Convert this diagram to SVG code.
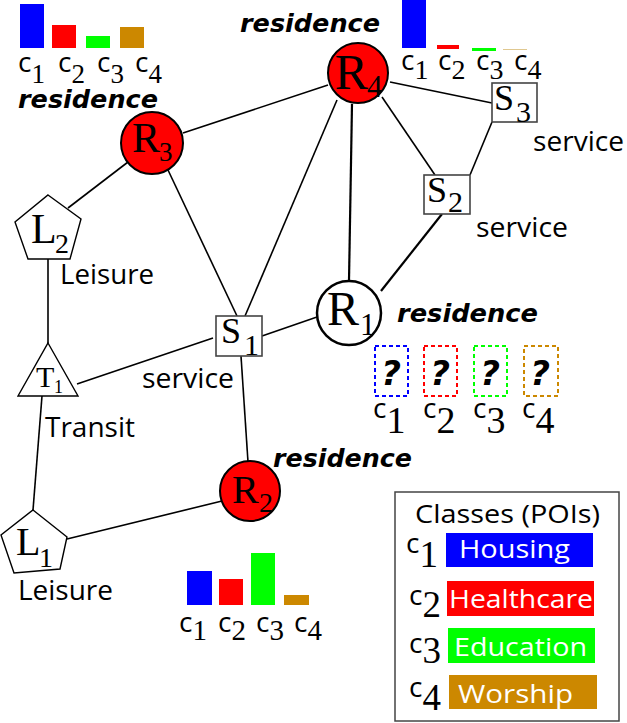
<svg xmlns="http://www.w3.org/2000/svg" width="627" height="723" viewBox="0 0 627 723">
<style>
.e{stroke:#000;stroke-width:1.6;fill:none}
.ew{stroke:#000;stroke-width:2.2;fill:none}
.red{fill:#ff0000;stroke:#000;stroke-width:2}
.wc{fill:#fff;stroke:#000;stroke-width:2.5}
.sq{fill:#fff;stroke:#444;stroke-width:1.6}
.sh{fill:#fff;stroke:#000;stroke-width:1.4}
.nl{font-family:"Liberation Serif",serif;fill:#000}
.res{font-family:"DejaVu Sans",sans-serif;font-weight:bold;font-style:italic;font-size:24px;fill:#000}
.lb{font-family:"Open Sans",sans-serif;font-size:27px;fill:#000}
.c{font-family:"Open Sans",sans-serif;font-size:28px;fill:#000}
.d{font-family:"Liberation Serif",serif}
.lg{font-family:"Open Sans",sans-serif;font-size:26px;fill:#fff}
.q{font-family:"DejaVu Sans",sans-serif;font-weight:bold;font-style:italic;font-size:34px;fill:#000}
.qb{fill:none;stroke-width:2;stroke-dasharray:4 3}
</style>
<g id="connectors">
<line class="e" x1="183" y1="133" x2="328" y2="85"/>
<line class="e" x1="128" y1="162" x2="68" y2="208"/>
<line class="e" x1="168" y1="170" x2="237" y2="316"/>
<line class="e" x1="337" y1="100" x2="245" y2="316"/>
<line class="ew" x1="352" y1="104" x2="349" y2="281"/>
<line class="e" x1="382" y1="97" x2="435" y2="175"/>
<line class="e" x1="390" y1="82" x2="492" y2="103"/>
<line class="e" x1="492" y1="122" x2="470" y2="175"/>
<line class="ew" x1="442" y1="214" x2="381" y2="291"/>
<line class="e" x1="262" y1="336" x2="317" y2="317"/>
<line class="e" x1="213" y1="338" x2="77" y2="384"/>
<line class="e" x1="241" y1="356" x2="248" y2="462"/>
<line class="e" x1="48" y1="259" x2="48" y2="343"/>
<line class="e" x1="42" y1="396" x2="33" y2="510"/>
<line class="e" x1="67" y1="539" x2="222" y2="501"/>
</g>
<g id="R4">
<circle class="red" cx="358" cy="73" r="30"/>
<text class="nl" x="335" y="89" font-size="50">R</text>
<text class="nl" x="367" y="97" font-size="31">4</text>
</g>
<g id="R3">
<circle class="red" cx="152" cy="143" r="31"/>
<text class="nl" x="132" y="152" font-size="42">R</text>
<text class="nl" x="159" y="161" font-size="27">3</text>
</g>
<g id="R1">
<circle class="wc" cx="349" cy="313" r="32"/>
<text class="nl" x="327" y="325" font-size="48">R</text>
<text class="nl" x="360" y="335" font-size="31">1</text>
</g>
<g id="R2">
<circle class="red" cx="250" cy="491" r="30"/>
<text class="nl" x="232" y="503" font-size="40">R</text>
<text class="nl" x="259" y="512" font-size="28">2</text>
</g>
<g id="S1">
<rect class="sq" x="216" y="316" width="46" height="40"/>
<text class="nl" x="221" y="343" font-size="36">S</text>
<text class="nl" x="244" y="355" font-size="30">1</text>
</g>
<g id="S2">
<rect class="sq" x="424" y="175" width="46" height="39"/>
<text class="nl" x="427" y="202" font-size="36">S</text>
<text class="nl" x="448" y="212" font-size="30">2</text>
</g>
<g id="S3">
<rect class="sq" x="492" y="83" width="45" height="39"/>
<text class="nl" x="494" y="110" font-size="36">S</text>
<text class="nl" x="516" y="122" font-size="30">3</text>
</g>
<g id="L2">
<polygon class="sh" points="48,195 81,219 70,259 28,259 15,222"/>
<text class="nl" x="31" y="243" font-size="42">L</text>
<text class="nl" x="55" y="253" font-size="28">2</text>
</g>
<g id="T1">
<polygon class="sh" points="48,343 78,396 18,396"/>
<text class="nl" x="36" y="387" font-size="30">T</text>
<text class="nl" x="54" y="393" font-size="18">1</text>
</g>
<g id="L1">
<polygon class="sh" points="33,510 67,537 60,569 14,573 1,535"/>
<text class="nl" x="16" y="555" font-size="40">L</text>
<text class="nl" x="39" y="567" font-size="28">1</text>
</g>
<g id="labels">
<text class="res" x="18" y="108" textLength="140" lengthAdjust="spacingAndGlyphs">residence</text>
<text class="res" x="240" y="32" textLength="140" lengthAdjust="spacingAndGlyphs">residence</text>
<text class="res" x="397" y="322" textLength="141" lengthAdjust="spacingAndGlyphs">residence</text>
<text class="res" x="273" y="467" textLength="139" lengthAdjust="spacingAndGlyphs">residence</text>
<text class="lb" x="60" y="284" textLength="94" lengthAdjust="spacingAndGlyphs">Leisure</text>
<text class="lb" x="18" y="600" textLength="95" lengthAdjust="spacingAndGlyphs">Leisure</text>
<text class="lb" x="45" y="437" textLength="90" lengthAdjust="spacingAndGlyphs">Transit</text>
<text class="lb" x="142" y="388" textLength="92" lengthAdjust="spacingAndGlyphs">service</text>
<text class="lb" x="476" y="237" textLength="92" lengthAdjust="spacingAndGlyphs">service</text>
<text class="lb" x="533" y="151" textLength="91" lengthAdjust="spacingAndGlyphs">service</text>
</g>
<g id="hist-R3">
<rect x="20" y="4" width="24" height="44" fill="#0000ff"/>
<rect x="52" y="25" width="24" height="23" fill="#ff0000"/>
<rect x="86" y="36" width="24" height="12" fill="#00ff00"/>
<rect x="120" y="27" width="24" height="21" fill="#cc8800"/>
<text class="c" x="18" y="72">c<tspan class="d" font-size="27" dy="11">1</tspan></text>
<text class="c" x="58" y="72">c<tspan class="d" font-size="27" dy="11">2</tspan></text>
<text class="c" x="97" y="72">c<tspan class="d" font-size="27" dy="11">3</tspan></text>
<text class="c" x="135" y="72">c<tspan class="d" font-size="27" dy="11">4</tspan></text>
</g>
<g id="hist-R4">
<rect x="402" y="0" width="24" height="48" fill="#0000ff"/>
<rect x="437" y="45" width="22" height="4" fill="#ff0000"/>
<rect x="472" y="48" width="24" height="3" fill="#00ff00"/>
<rect x="503" y="49" width="24" height="1" fill="#e0c890"/>
<text class="c" x="401" y="70">c<tspan class="d" font-size="28" dy="9">1</tspan></text>
<text class="c" x="438" y="70">c<tspan class="d" font-size="28" dy="9">2</tspan></text>
<text class="c" x="476" y="70">c<tspan class="d" font-size="28" dy="9">3</tspan></text>
<text class="c" x="514" y="70">c<tspan class="d" font-size="28" dy="9">4</tspan></text>
</g>
<g id="hist-R2">
<rect x="187" y="571" width="25" height="34" fill="#0000ff"/>
<rect x="219" y="579" width="24" height="26" fill="#ff0000"/>
<rect x="251" y="553" width="24" height="52" fill="#00ff00"/>
<rect x="284" y="595" width="25" height="10" fill="#cc8800"/>
<text class="c" x="179" y="632">c<tspan class="d" font-size="29" dy="8">1</tspan></text>
<text class="c" x="218" y="632">c<tspan class="d" font-size="29" dy="8">2</tspan></text>
<text class="c" x="256" y="632">c<tspan class="d" font-size="29" dy="8">3</tspan></text>
<text class="c" x="294" y="632">c<tspan class="d" font-size="29" dy="8">4</tspan></text>
</g>
<g id="unknown-R1">
<rect class="qb" x="375" y="346" width="33" height="50" stroke="#0000ff"/>
<rect class="qb" x="424" y="346" width="33" height="50" stroke="#ff0000"/>
<rect class="qb" x="474" y="346" width="33" height="50" stroke="#00ff00"/>
<rect class="qb" x="524" y="346" width="34" height="50" stroke="#cc8800"/>
<text class="q" x="391" y="385" text-anchor="middle">?</text>
<text class="q" x="440" y="385" text-anchor="middle">?</text>
<text class="q" x="490" y="385" text-anchor="middle">?</text>
<text class="q" x="540" y="385" text-anchor="middle">?</text>
<text class="c" x="373" y="418" font-size="30">c<tspan class="d" font-size="38" dy="15">1</tspan></text>
<text class="c" x="423" y="418" font-size="30">c<tspan class="d" font-size="38" dy="15">2</tspan></text>
<text class="c" x="473" y="418" font-size="30">c<tspan class="d" font-size="38" dy="15">3</tspan></text>
<text class="c" x="522" y="418" font-size="30">c<tspan class="d" font-size="38" dy="15">4</tspan></text>
</g>
<g id="legend">
<rect x="395" y="492" width="224" height="229" fill="#fff" stroke="#444" stroke-width="1.5"/>
<text x="415" y="523" font-family="Open Sans, sans-serif" font-size="26" fill="#000" textLength="185" lengthAdjust="spacingAndGlyphs">Classes (POIs)</text>
<rect x="446" y="533" width="147" height="34" fill="#0000ff"/>
<rect x="447" y="581" width="147" height="35" fill="#ff0000"/>
<rect x="448" y="628" width="147" height="35" fill="#00ff00"/>
<rect x="449" y="675" width="148" height="34" fill="#cc8800"/>
<text class="lg" x="459" y="558" textLength="111" lengthAdjust="spacingAndGlyphs">Housing</text>
<text class="lg" x="449" y="608" textLength="144" lengthAdjust="spacingAndGlyphs">Healthcare</text>
<text class="lg" x="454" y="656" textLength="133" lengthAdjust="spacingAndGlyphs">Education</text>
<text class="lg" x="458" y="703" textLength="115" lengthAdjust="spacingAndGlyphs">Worship</text>
<text class="c" x="406" y="553" font-size="30">c<tspan class="d" font-size="37" dy="14">1</tspan></text>
<text class="c" x="409" y="605" font-size="30">c<tspan class="d" font-size="37" dy="12">2</tspan></text>
<text class="c" x="409" y="653" font-size="30">c<tspan class="d" font-size="37" dy="10">3</tspan></text>
<text class="c" x="409" y="697" font-size="30">c<tspan class="d" font-size="37" dy="13">4</tspan></text>
</g>
</svg>
